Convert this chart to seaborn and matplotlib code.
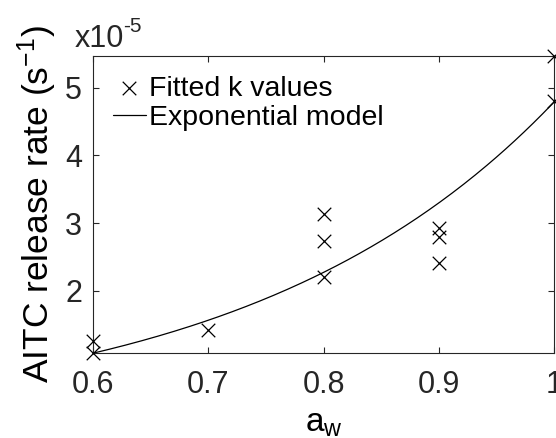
import numpy as np
import pandas as pd
import matplotlib
matplotlib.use("Agg")
import matplotlib.pyplot as plt
import seaborn as sns

# Fitted first-order release constants (s^-1) at each water activity
aw_points = [0.6, 0.6, 0.7, 0.8, 0.8, 0.8, 0.9, 0.9, 0.9, 1.0, 1.0]
k_values = [1.26e-5, 1.08e-5, 1.42e-5, 3.13e-5, 2.73e-5, 2.21e-5,
            2.93e-5, 2.80e-5, 2.41e-5, 4.81e-5, 5.47e-5]

# Exponential model k = A * exp(B * aw)
model_A = 1.149e-6
model_B = 3.73

x_ticks = [0.6, 0.7, 0.8, 0.9, 1.0]
x_tick_labels = ["0.6", "0.7", "0.8", "0.9", "1"]
y_ticks = [2e-5, 3e-5, 4e-5, 5e-5]
y_tick_labels = ["2", "3", "4", "5"]

sns.set_style("ticks")
plt.rcParams["font.family"] = ["Liberation Sans", "DejaVu Sans"]
plt.rcParams["mathtext.fontset"] = "custom"
plt.rcParams["mathtext.rm"] = "Liberation Sans"
plt.rcParams["mathtext.it"] = "Liberation Sans:italic"

ink = "#262626"
W, H = 556, 438
fig = plt.figure(figsize=(W / 100, H / 100), dpi=100)
fig.patch.set_facecolor("white")
ax = fig.add_axes([93 / W, 1 - 353 / H, (554 - 93) / W, (353 - 56) / H])

pts = pd.DataFrame({"aw": aw_points, "k": k_values})
aw_grid = np.linspace(min(x_ticks), max(x_ticks), 200)
curve = pd.DataFrame({"aw": aw_grid, "k": model_A * np.exp(model_B * aw_grid)})

sns.scatterplot(data=pts, x="aw", y="k", marker="x", s=95, color="black",
                linewidth=0.9, ax=ax, label="Fitted k values", clip_on=False,
                zorder=3)
sns.lineplot(data=curve, x="aw", y="k", color="black", linewidth=0.9, ax=ax,
             label="Exponential model", clip_on=False)

ax.set_xlim(min(x_ticks), max(x_ticks))
ax.set_ylim(min(k_values), max(k_values))
ax.set_xticks(x_ticks)
ax.set_xticklabels(x_tick_labels)
ax.set_yticks(y_ticks)
ax.set_yticklabels(y_tick_labels)

for sp in ax.spines.values():
    sp.set_visible(True)
    sp.set_color(ink)
    sp.set_linewidth(0.8)
ax.tick_params(direction="in", length=4.5, width=0.8, color=ink,
               labelcolor=ink, labelsize=22, top=True, right=True)
ax.tick_params(axis="x", pad=12)
ax.tick_params(axis="y", pad=8)

ax.set_xlabel(r"a$_\mathregular{w}$", fontsize=24, color="black", labelpad=6)
ax.set_ylabel(r"AITC release rate (s$^\mathregular{-1}$)", fontsize=25.5,
              color="black", labelpad=4)

leg = ax.legend(loc="upper left", frameon=False, fontsize=20.5,
                handlelength=1.15, handletextpad=0.12, labelspacing=0.12,
                borderaxespad=0.3, bbox_to_anchor=(0.0, 1.0))
for t in leg.get_texts():
    t.set_color("black")

# exponent label above the y axis
fig.text(75 / W, 1 - 47 / H, "x10", fontsize=22, color=ink, ha="left",
         va="baseline")
fig.text(123 / W, 1 - 32 / H, "-5", fontsize=15, color=ink, ha="left",
         va="baseline")

fig.savefig("out.png", dpi=100, facecolor="white")
